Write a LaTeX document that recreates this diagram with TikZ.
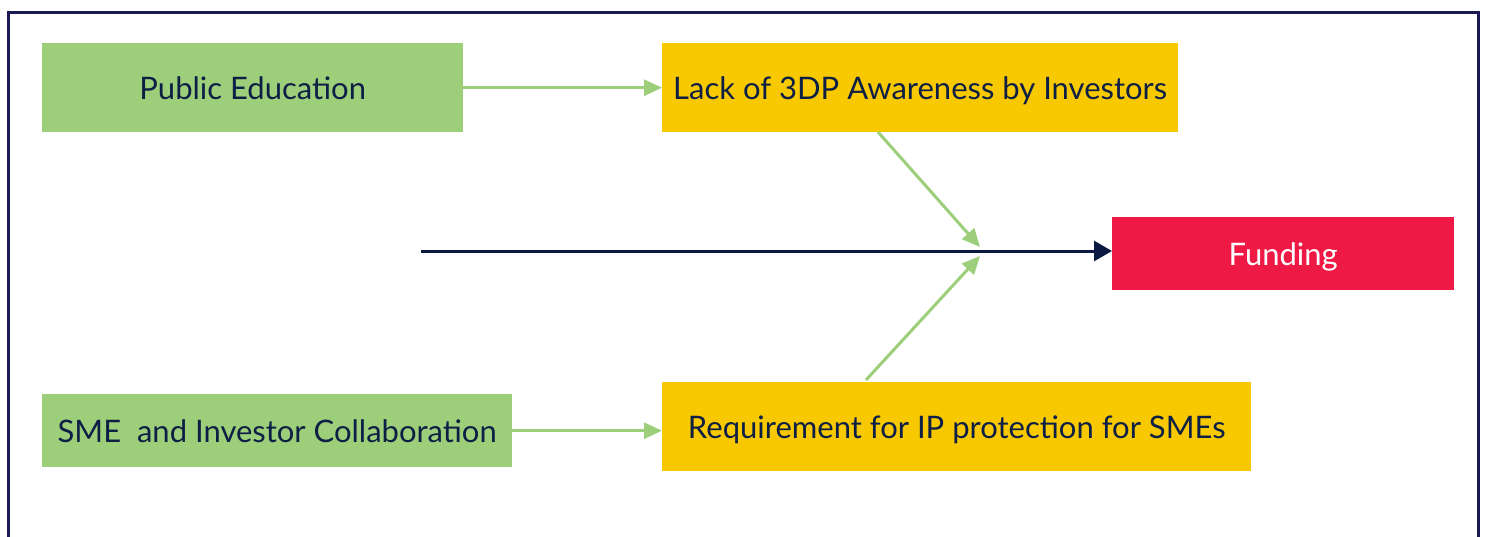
\documentclass[tikz,border=0pt]{standalone}
\usepackage{fontspec}
\setmainfont{Lato}
\usetikzlibrary{arrows.meta}
\definecolor{navy}{HTML}{1B1A52}
\definecolor{txt}{HTML}{0E1F45}
\definecolor{lgreen}{HTML}{9DCF7A}
\definecolor{gold}{HTML}{F8C800}
\definecolor{red}{HTML}{EE1A45}
\definecolor{spine}{HTML}{0A1A40}
\begin{document}
\begin{tikzpicture}[x=1pt,y=-1pt,
  box/.style={inner sep=0pt, anchor=north west, font=\fontsize{31}{36}\selectfont, text=txt, text depth=0pt},
  garrow/.style={draw=lgreen, line width=3pt, -{Triangle[length=18pt,width=16pt]}},
]
\useasboundingbox (0,0) rectangle (1486,536);
\clip (0,0) rectangle (1486,536);
\draw[navy, line width=3.5pt] (8.5,12.5) rectangle (1478.5,560);
% boxes
\node[box, fill=lgreen, minimum width=421pt, minimum height=89pt] (pe) at (42,43) {Public Education};
\node[box, fill=gold, minimum width=516pt, minimum height=89pt] (lack) at (662,43) {Lack of 3DP Awareness by Investors};
\node[box, fill=red, text=white, minimum width=342pt, minimum height=73pt] (fund) at (1112,217) {Funding};
\node[box, fill=lgreen, minimum width=470pt, minimum height=73pt] (sme) at (42,394) {SME\ \ and Investor Collaboration};
\node[box, fill=gold, minimum width=589pt, minimum height=89pt] (req) at (662,382) {Requirement for IP protection for SMEs};
% spine
\coordinate (s0) at (421,251);
\coordinate (m1) at (980,247);
\coordinate (m2) at (980,256);
\draw[spine, line width=3pt, -{Triangle[length=18pt,width=20pt]}] (s0) -- (fund.west |- s0);
% arrows
\draw[garrow] (pe.east) -- (lack.west);
\draw[garrow] (sme.east) -- (req.west |- sme.east);
\draw[garrow] (878,132) -- (m1);
\draw[garrow] (866,380) -- (m2);
\end{tikzpicture}
\end{document}
